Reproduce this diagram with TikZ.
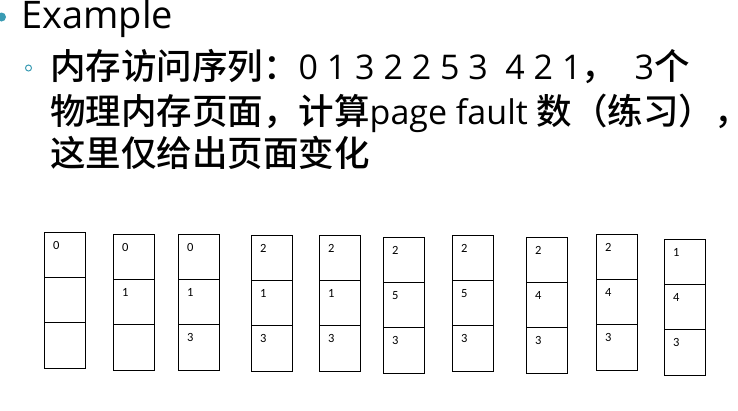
\documentclass[tikz,border=0pt]{standalone}
\usepackage{fontspec}
\setmainfont{Open Sans}
\newfontfamily\cjk{Noto Sans CJK SC}[BoldFont={* Medium}]
\newfontfamily\cellfont{Carlito}
\usetikzlibrary{positioning}
\definecolor{bulletblue}{HTML}{3A9BB3}
\newcommand{\zh}[1]{{\cjk\bfseries\fontsize{35.5}{40}\selectfont #1}}

\begin{document}
\begin{tikzpicture}[x=1pt,y=-1pt,
    frame/.style={draw,line width=1pt,minimum width=41pt,minimum height=45.4pt,inner sep=0pt,outer sep=0pt},
    cellnum/.style={anchor=base west,xshift=9pt,yshift=-17pt,inner sep=0pt,font=\cellfont\fontsize{12.5}{14}\selectfont},
    heading/.style={anchor=base west,inner sep=0pt,font=\fontsize{34}{40}\selectfont}]
  \useasboundingbox (0,0) rectangle (738,410);
  % bullets and text
  \node[circle,fill=bulletblue,minimum size=9pt,inner sep=0pt] (dot) at (1.5,17) {};
  \node[circle,draw=bulletblue,line width=1pt,minimum size=6pt,inner sep=0pt] (ring) at (28.5,68) {};
  \node[heading,font=\fontsize{38}{44}\selectfont] (title) at (21,28) {Example};
  \node[heading] (line1) at (50,79) {\zh{内存访问序列：}0 1 3 2 2 5 3\ \ 4 2 1\zh{，}\ \ 3\zh{个}};
  \node[heading] (line2) at (50,124) {\zh{物理内存页面，计算}page fault \zh{数（练习），\hspace{-0.6em}}};
  \node[heading] (line3) at (50,166) {\zh{这里仅给出页面变化}};
  % page frames after each access
  \foreach \x/\y/\a/\b/\c [count=\i] in {44/232/0//, 113/234/0/1/, 178/234/0/1/3, 251/235/2/1/3,
      319/235/2/1/3, 383/237/2/5/3, 452/235/2/5/3, 526/237/2/4/3, 596/234/2/4/3, 664/239/1/4/3}{
    \node[frame,anchor=north west,label={[cellnum]north west:\a}] (f\i-1) at (\x,\y) {};
    \node[frame,below=0pt of f\i-1,label={[cellnum]north west:\b}] (f\i-2) {};
    \node[frame,below=0pt of f\i-2,label={[cellnum]north west:\c}] (f\i-3) {};
  }
\end{tikzpicture}
\end{document}
